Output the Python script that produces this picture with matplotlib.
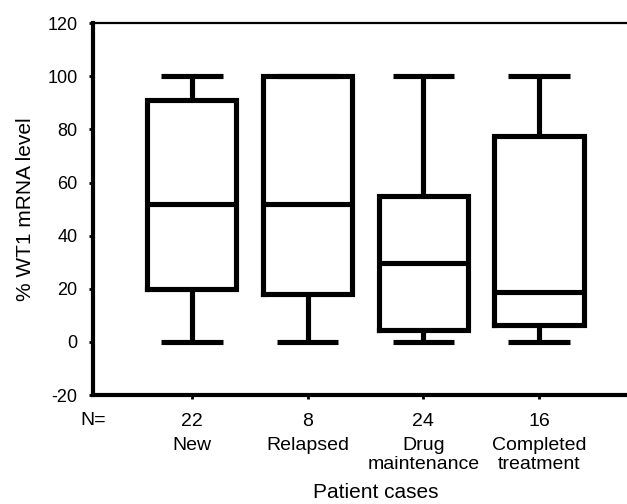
import matplotlib.pyplot as plt

plt.rcParams["font.family"] = ["Liberation Sans", "DejaVu Sans"]
plt.rcParams["axes.unicode_minus"] = False

# box plot summary
groups = ["New", "Relapsed", "Drug\nmaintenance", "Completed\ntreatment"]
n_cases = [22, 8, 24, 16]
whis_low = [0, 0, 0, 0]
q1 = [20, 18, 4.5, 6.4]
median = [52, 52, 29.7, 19]
q3 = [91, 100, 55, 77.4]
whis_high = [100, 100, 100, 100]

stats = []
for i in range(len(groups)):
    stats.append(dict(
        whislo=whis_low[i], q1=q1[i], med=median[i], q3=q3[i], whishi=whis_high[i],
        fliers=[],
    ))

fig = plt.figure(figsize=(6.27, 5.04), dpi=100)
ax = fig.add_axes([0.148, 0.216, 0.852, 0.738])

lw = 3.7
line_style = dict(color="black", linewidth=lw, solid_capstyle="butt")
positions = list(range(1, len(groups) + 1))
ax.bxp(
    stats,
    positions=positions,
    widths=0.77,
    capwidths=0.53,
    showfliers=False,
    boxprops=dict(color="black", linewidth=lw, solid_joinstyle="miter"),
    medianprops=line_style,
    whiskerprops=line_style,
    capprops=line_style,
)

ax.set_xlim(0.144, 4.76)
ax.set_ylim(-20, 120)
ax.set_yticks(range(-20, 121, 20))
ax.tick_params(axis="y", labelsize=13, length=3, width=2, pad=8)
ax.set_xticks(positions)
ax.set_xticklabels([str(n) for n in n_cases])
ax.tick_params(axis="x", labelsize=14, length=3, width=2, pad=10)

ax.spines["right"].set_visible(False)
ax.spines["left"].set_linewidth(3)
ax.spines["bottom"].set_linewidth(3)
ax.spines["top"].set_linewidth(1.6)

ax.text(0.0, -0.068, "N=", transform=ax.transAxes, ha="center", va="center", fontsize=14)
for x, name in zip(positions, groups):
    ax.text(x, -0.112, name, transform=ax.get_xaxis_transform(),
            ha="center", va="top", fontsize=14, linespacing=1.2)

ax.text(0.53, -0.262, "Patient cases",
        transform=ax.transAxes, ha="center", va="center", fontsize=15)
ax.set_ylabel("% WT1 mRNA level", fontsize=15, labelpad=9)

fig.savefig("out.png", dpi=100)
